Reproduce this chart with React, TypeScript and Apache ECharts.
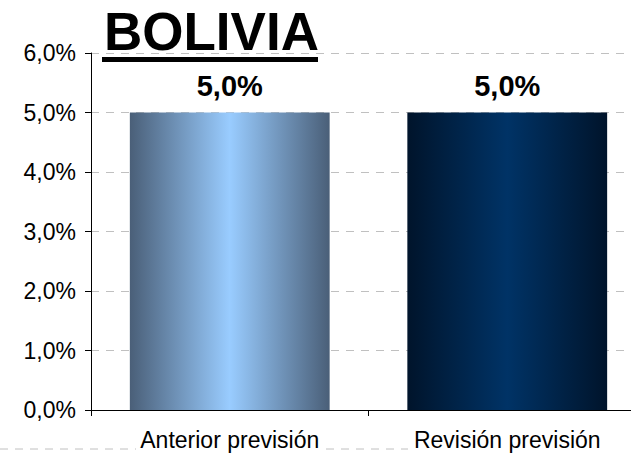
import React, { useEffect, useRef } from "react";
import * as echarts from "echarts";

const categories = ["Anterior previsión", "Revisión previsión"];
const values = [5.0, 5.0];
const yTicks = [0, 1, 2, 3, 4, 5, 6];
const titleText = "BOLIVIA";

const fmt = (v: number) => v.toFixed(1).replace(".", ",") + "%";

export default function App() {
  const ref = useRef<HTMLDivElement>(null);
  useEffect(() => {
    if (!ref.current) return;
    const chart = echarts.init(ref.current, null, { renderer: "svg" });
    const grad = (edge: string, mid: string) =>
      new echarts.graphic.LinearGradient(0, 0, 1, 0, [
        { offset: 0, color: edge },
        { offset: 0.5, color: mid },
        { offset: 1, color: edge },
      ]);
    const barColors = [grad("#4a5f78", "#99ccff"), grad("#00142b", "#003366")];
    chart.setOption({
      animation: false,
      backgroundColor: "#ffffff",
      textStyle: { fontFamily: "Liberation Sans, Arial, sans-serif" },
      grid: { left: 91, top: 53, height: 357, width: 555, containLabel: false, outerBoundsMode: "none" },
      xAxis: {
        type: "category",
        data: categories,
        boundaryGap: true,
        axisLine: { lineStyle: { color: "#000", width: 1 } },
        axisTick: { show: true, length: 6, lineStyle: { color: "#000" } },
        axisLabel: { color: "#000", fontSize: 23, margin: 18, fontFamily: "Liberation Sans, Arial, sans-serif" },
      },
      yAxis: {
        type: "value",
        min: yTicks[0],
        max: yTicks[yTicks.length - 1],
        interval: 1,
        axisLine: { show: true, lineStyle: { color: "#000", width: 1 } },
        axisTick: { show: true, length: 6, lineStyle: { color: "#000" } },
        axisLabel: { color: "#000", fontSize: 23, margin: 15, formatter: (v: number) => fmt(v), fontFamily: "Liberation Sans, Arial, sans-serif" },
        splitLine: { show: true, lineStyle: { color: "#c0c0c0", type: [8, 7], width: 1 } },
      },
      series: [
        {
          type: "bar",
          barCategoryGap: "28%",
          data: values.map((v, i) => ({ value: v, itemStyle: { color: barColors[i] } })),
          label: {
            show: true,
            position: "top",
            distance: 12,
            formatter: (p: any) => fmt(p.value),
            color: "#000",
            fontSize: 29,
            fontWeight: "bold",
            fontFamily: "Liberation Sans, Arial, sans-serif",
          },
        },
      ],
      graphic: [
        {
          type: "text",
          x: 104,
          y: 31,
          style: {
            text: titleText,
            fill: "#000",
            font: "bold 53px 'Liberation Sans', Arial, sans-serif",
            textAlign: "left",
            textVerticalAlign: "middle",
          },
          z: 10,
        },
        { type: "rect", shape: { x: 102, y: 57, width: 216, height: 5 }, style: { fill: "#000" }, z: 10 },
        {
          type: "line",
          shape: { x1: 0, y1: 449, x2: 136, y2: 449 },
          style: { stroke: "#c0c0c0", lineWidth: 1, lineDash: [8, 7] },
        },
        {
          type: "line",
          shape: { x1: 326, y1: 449, x2: 408, y2: 449 },
          style: { stroke: "#c0c0c0", lineWidth: 1, lineDash: [8, 7] },
        },
      ],
    });
    return () => chart.dispose();
  }, []);
  return <div ref={ref} style={{ width: 631, height: 455, position: "absolute", left: 0, top: 0 }} />;
}
